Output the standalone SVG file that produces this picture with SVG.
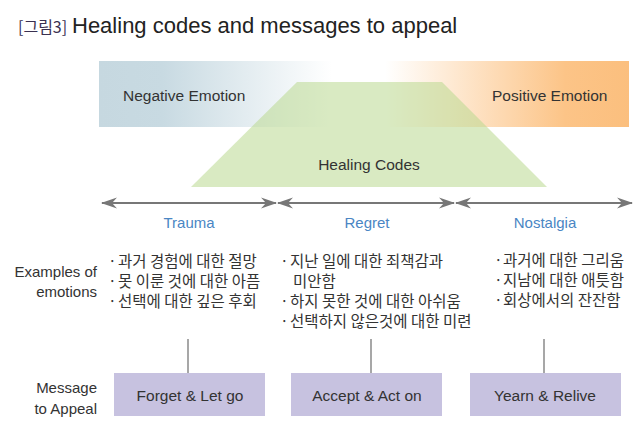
<svg xmlns="http://www.w3.org/2000/svg" width="640" height="442" viewBox="0 0 640 442">
<style>
text{font-family:"Liberation Sans",Arial,sans-serif;fill:#333}
.ko{font-family:"Noto Sans CJK KR","Liberation Sans",sans-serif;font-size:15.5px;fill:#333}
.lbl{font-size:15px}
.cat{font-size:15px;fill:#4a86c4;text-anchor:middle}
.box{fill:#c7c2e0}
.btxt{font-size:15.5px;text-anchor:middle;fill:#333}
.arr{stroke:#777;stroke-width:2;fill:none;marker-start:url(#ah);marker-end:url(#ah)}
.vl{stroke:#8a8a8a;stroke-width:1.5}
</style>
<defs>
<linearGradient id="band" x1="99" y1="0" x2="629" y2="0" gradientUnits="userSpaceOnUse">
<stop offset="0" stop-color="#c6d8e0"/>
<stop offset="0.12" stop-color="#c8dae2"/>
<stop offset="0.44" stop-color="#ffffff"/>
<stop offset="0.54" stop-color="#ffffff"/>
<stop offset="0.88" stop-color="#fcc487"/>
<stop offset="1" stop-color="#fbbf7e"/>
</linearGradient>
<marker id="ah" viewBox="0 0 16 12" refX="15" refY="6" markerWidth="16" markerHeight="12" markerUnits="userSpaceOnUse" orient="auto-start-reverse">
<path d="M0,0.5 L16,6 L0,11.5 L5,6 Z" fill="#777"/>
</marker>
</defs>

<g id="title">
<text x="18" y="33" style="font-family:'Noto Sans CJK KR',sans-serif;font-size:16px;fill:#3a3050">[그림3]</text>
<text x="72" y="33" style="font-size:22px;fill:#222">Healing codes and messages to appeal</text>
</g>

<g id="emotion-band">
<rect x="99" y="61" width="530" height="66" fill="url(#band)"/>
<text x="123" y="101" class="lbl" style="font-size:15.5px">Negative Emotion</text>
<text x="492" y="101" class="lbl" style="font-size:15.5px">Positive Emotion</text>
</g>

<g id="healing-codes">
<polygon points="297,82 442,82 547,187 191,187" fill="#b9d98f" fill-opacity="0.55"/>
<text x="369" y="170" class="lbl" text-anchor="middle" style="font-size:15.5px">Healing Codes</text>
</g>

<g id="connectors">
<line class="arr" x1="102" y1="203" x2="276" y2="203"/>
<line class="arr" x1="278" y1="203" x2="454" y2="203"/>
<line class="arr" x1="456" y1="203" x2="632" y2="203"/>
<line class="vl" x1="188" y1="339" x2="188" y2="373"/>
<line class="vl" x1="371" y1="339" x2="371" y2="373"/>
<line class="vl" x1="544" y1="339" x2="544" y2="373"/>
</g>

<g id="trauma">
<text x="189" y="228" class="cat">Trauma</text>
</g>
<g id="regret">
<text x="367" y="228" class="cat">Regret</text>
</g>
<g id="nostalgia">
<text x="545" y="228" class="cat">Nostalgia</text>
</g>

<g id="row-labels">
<text x="97" y="277" class="lbl" text-anchor="end">Examples of</text>
<text x="97" y="297" class="lbl" text-anchor="end">emotions</text>
<text x="97" y="393" class="lbl" text-anchor="end">Message</text>
<text x="97" y="414" class="lbl" text-anchor="end">to Appeal</text>
</g>

<g id="examples-trauma">
<text x="108" y="267" class="ko">·</text><text x="118" y="267" class="ko">과거 경험에 대한 절망</text>
<text x="108" y="287" class="ko">·</text><text x="118" y="287" class="ko">못 이룬 것에 대한 아픔</text>
<text x="108" y="307" class="ko">·</text><text x="118" y="307" class="ko">선택에 대한 깊은 후회</text>
</g>

<g id="examples-regret">
<text x="280" y="267" class="ko">·</text><text x="290" y="267" class="ko">지난 일에 대한 죄책감과</text>
<text x="293" y="287" class="ko">미안함</text>
<text x="280" y="307" class="ko">·</text><text x="290" y="307" class="ko">하지 못한 것에 대한 아쉬움</text>
<text x="280" y="327" class="ko">·</text><text x="290" y="327" class="ko">선택하지 않은것에 대한 미련</text>
</g>

<g id="examples-nostalgia">
<text x="494" y="266" class="ko">·</text><text x="503" y="266" class="ko">과거에 대한 그리움</text>
<text x="494" y="286" class="ko">·</text><text x="503" y="286" class="ko">지남에 대한 애틋함</text>
<text x="494" y="306" class="ko">·</text><text x="503" y="306" class="ko">회상에서의 잔잔함</text>
</g>

<g id="forget-let-go">
<rect class="box" x="114" y="373" width="151" height="43"/>
<text x="190" y="401" class="btxt">Forget &amp; Let go</text>
</g>
<g id="accept-act-on">
<rect class="box" x="291" y="373" width="151" height="43"/>
<text x="367" y="401" class="btxt">Accept &amp; Act on</text>
</g>
<g id="yearn-relive">
<rect class="box" x="470" y="373" width="151" height="43"/>
<text x="545" y="401" class="btxt">Yearn &amp; Relive</text>
</g>
</svg>
